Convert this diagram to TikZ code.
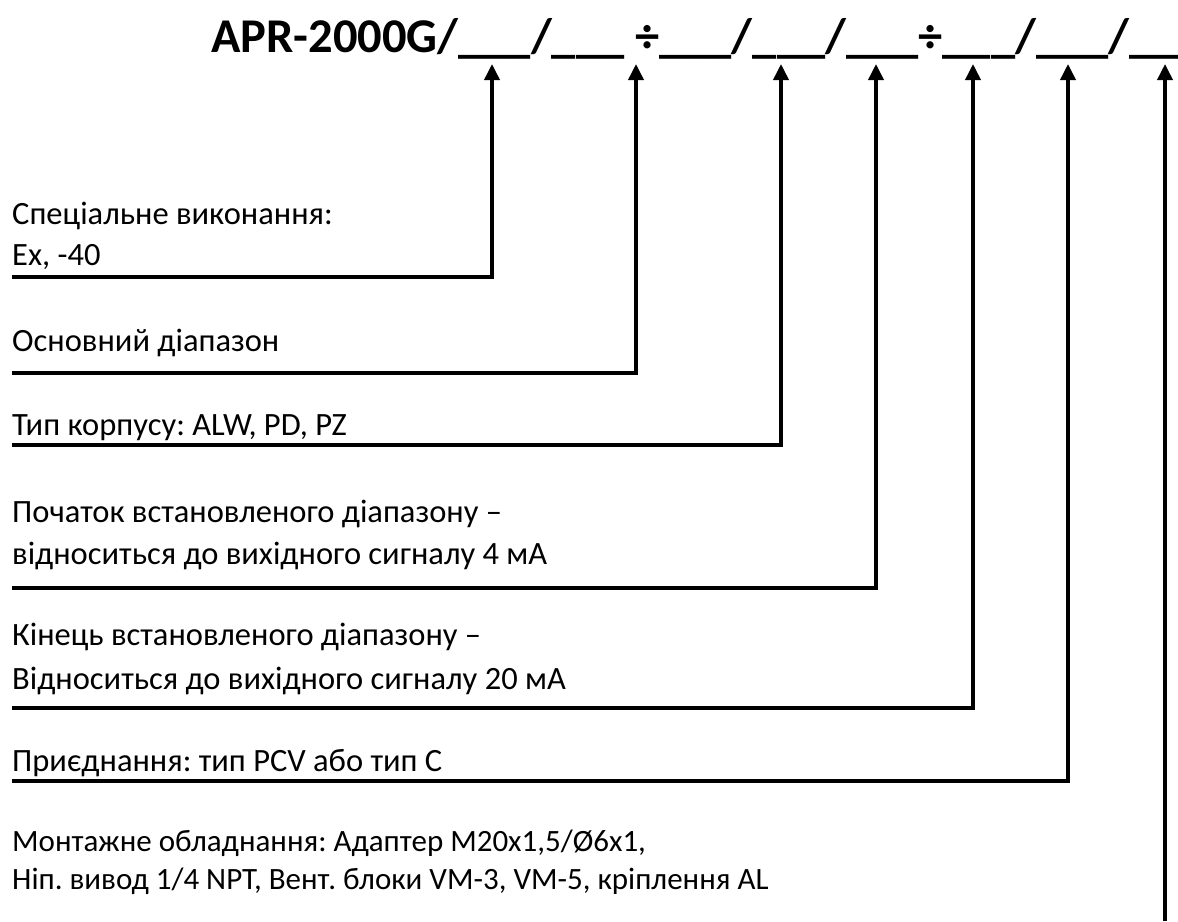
\documentclass[tikz,border=0pt]{standalone}
\usepackage{fontspec}
\setmainfont{Carlito}
\usetikzlibrary{arrows.meta}
\frenchspacing
\tikzset{
  lbl/.style={anchor=base west, inner sep=0pt, font=\fontsize{32.5}{38}\selectfont},
  lblsm/.style={lbl, font=\fontsize{31}{36}\selectfont},
  ttl/.style={anchor=base west, inner sep=0pt, font=\bfseries\fontsize{48.5}{52}\selectfont},
  conn/.style={line width=3.6pt, line join=miter, -{Triangle[width=15pt,length=16pt]}}
}
\begin{document}
\begin{tikzpicture}[x=1pt,y=-1pt]
\useasboundingbox (0,0) rectangle (1178,921);
% title
\node[ttl] (title) at (211,52) {APR-2000G/\_\_\_/\_\_\_ ÷\_\_\_/\_\_\_/\_\_\_÷\_\_\_/\_\_\_/\_\_\_};
% arrow tips
\coordinate (t1) at (492,64);
\coordinate (t2) at (636,64);
\coordinate (t3) at (781,64);
\coordinate (t4) at (876,64);
\coordinate (t5) at (973,64);
\coordinate (t6) at (1068,64);
\coordinate (t7) at (1165,64);
% labels
\node[lbl] (l1a) at (12,224) {Спеціальне виконання:};
\node[lbl] (l1b) at (12,265) {Ex, -40};
\node[lbl] (l2) at (12,351) {Основний діапазон};
\node[lbl] (l3) at (12,435) {Тип корпусу: ALW, PD, PZ};
\node[lbl] (l4a) at (12,522) {Початок встановленого діапазону –};
\node[lbl] (l4b) at (12,564) {відноситься до вихідного сигналу 4 мА};
\node[lbl] (l5a) at (12,645) {Кінець встановленого діапазону –};
\node[lbl] (l5b) at (12,689) {Відноситься до вихідного сигналу 20 мА};
\node[lbl] (l6) at (12,771) {Приєднання: тип PCV або тип C};
\node[lblsm] (l7a) at (12,851) {Монтажне обладнання: Адаптер M20x1,5/Ø6x1,};
\node[lblsm] (l7b) at (12,889) {Ніп. вивод 1/4 NPT, Вент. блоки VM-3, VM-5, кріплення AL};
% underline starts and corners
\coordinate (s1) at (12,277);  \coordinate (c1) at (492,277);
\coordinate (s2) at (12,373);  \coordinate (c2) at (636,373);
\coordinate (s3) at (12,445);  \coordinate (c3) at (781,445);
\coordinate (s4) at (12,588);  \coordinate (c4) at (876,588);
\coordinate (s5) at (12,708);  \coordinate (c5) at (973,708);
\coordinate (s6) at (12,781);  \coordinate (c6) at (1068,781);
\coordinate (s7) at (1165,921);
% connectors
\draw[conn] (s1) -- (c1) -- (t1);
\draw[conn] (s2) -- (c2) -- (t2);
\draw[conn] (s3) -- (c3) -- (t3);
\draw[conn] (s4) -- (c4) -- (t4);
\draw[conn] (s5) -- (c5) -- (t5);
\draw[conn] (s6) -- (c6) -- (t6);
\draw[conn] (s7) -- (t7);
\end{tikzpicture}
\end{document}
